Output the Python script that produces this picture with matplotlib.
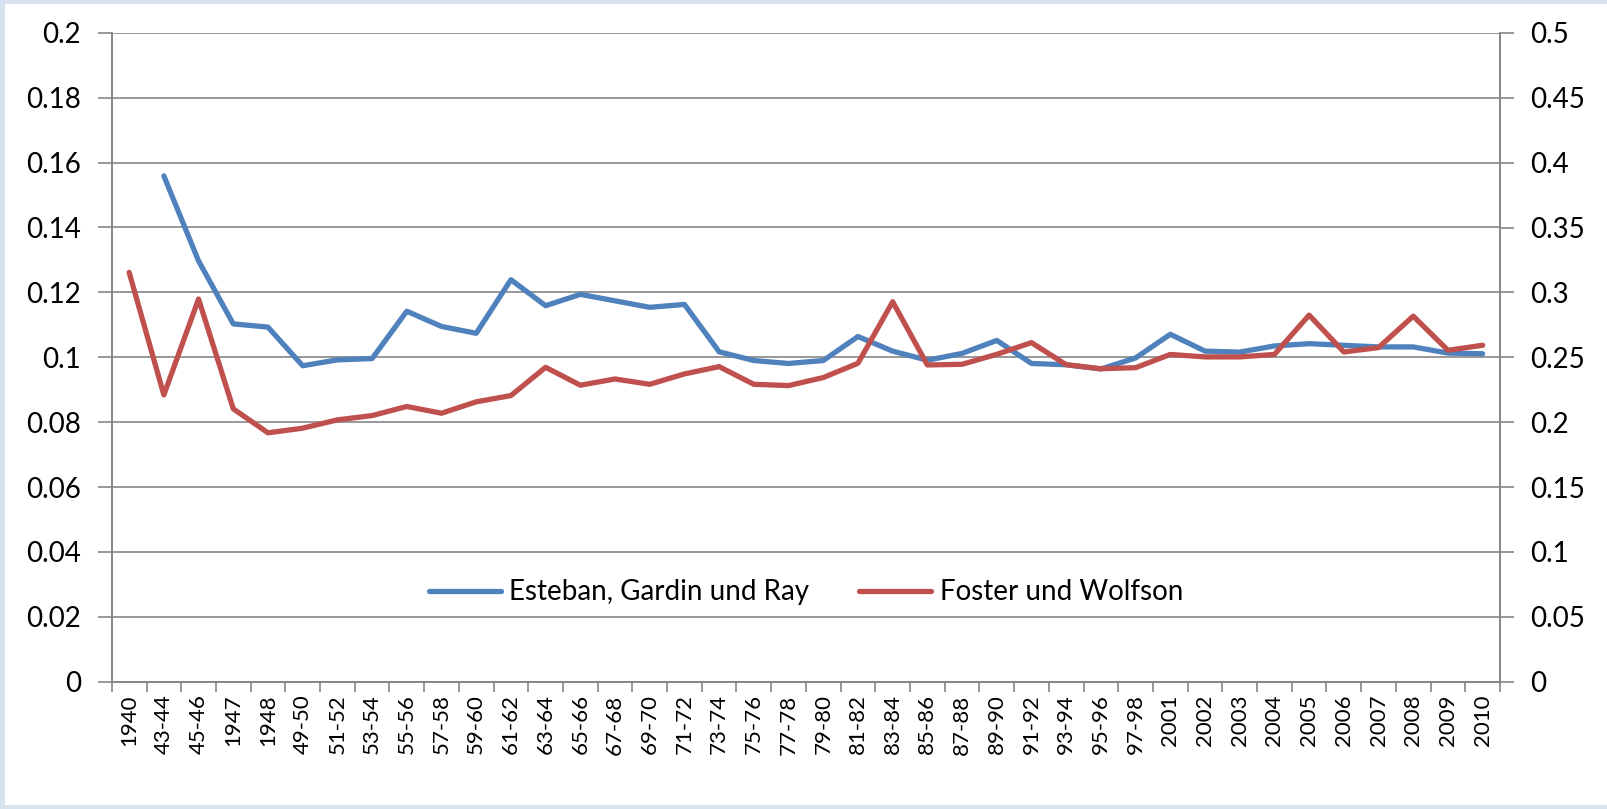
import matplotlib
matplotlib.use("Agg")
import matplotlib.pyplot as plt
from matplotlib.patches import Rectangle
from matplotlib.ticker import FixedLocator, NullFormatter

categories = ["1940", "43-44", "45-46", "1947", "1948", "49-50", "51-52", "53-54",
              "55-56", "57-58", "59-60", "61-62", "63-64", "65-66", "67-68", "69-70",
              "71-72", "73-74", "75-76", "77-78", "79-80", "81-82", "83-84", "85-86",
              "87-88", "89-90", "91-92", "93-94", "95-96", "97-98", "2001", "2002",
              "2003", "2004", "2005", "2006", "2007", "2008", "2009", "2010"]

# Esteban, Gardin und Ray (left axis); no value for 1940
egr = [None, 0.1559, 0.1297, 0.1103, 0.1093, 0.0974, 0.0992, 0.0996,
       0.1142, 0.1095, 0.1074, 0.1239, 0.1159, 0.1194, 0.1174, 0.1154,
       0.1163, 0.1017, 0.0990, 0.0981, 0.0990, 0.1064, 0.1019, 0.0991,
       0.1012, 0.1052, 0.0981, 0.0977, 0.0964, 0.0998, 0.1071, 0.1019,
       0.1016, 0.1035, 0.1042, 0.1037, 0.1032, 0.1032, 0.1013, 0.1011]

# Foster und Wolfson (right axis)
fw = [0.3154, 0.2210, 0.2949, 0.2103, 0.1918, 0.1954, 0.2018, 0.2051,
      0.2121, 0.2069, 0.2157, 0.2205, 0.2423, 0.2285, 0.2333, 0.2292,
      0.2372, 0.2428, 0.2292, 0.2282, 0.2344, 0.2454, 0.2928, 0.2441,
      0.2446, 0.2523, 0.2613, 0.2443, 0.2412, 0.2420, 0.2522, 0.2503,
      0.2503, 0.2522, 0.2825, 0.2541, 0.2575, 0.2817, 0.2554, 0.2593]

left_ticks = [0, 0.02, 0.04, 0.06, 0.08, 0.1, 0.12, 0.14, 0.16, 0.18, 0.2]
left_labels = ["0", "0.02", "0.04", "0.06", "0.08", "0.1", "0.12", "0.14", "0.16", "0.18", "0.2"]
right_ticks = [0, 0.05, 0.1, 0.15, 0.2, 0.25, 0.3, 0.35, 0.4, 0.45, 0.5]
right_labels = ["0", "0.05", "0.1", "0.15", "0.2", "0.25", "0.3", "0.35", "0.4", "0.45", "0.5"]

BLUE = "#4F81BD"
RED = "#C0504D"
GRID = "#868686"
FONT = "Lato"

fig = plt.figure(figsize=(16.07, 8.09), dpi=100)
fig.patch.set_facecolor("#D6E2EE")
fig.add_artist(Rectangle((5 / 1607, 4 / 809), 1 - 5 / 1607, 1 - 8 / 809,
                         transform=fig.transFigure, facecolor="white",
                         edgecolor="none", zorder=0))

ax = fig.add_axes([111.8 / 1607, 1 - 681.8 / 809, (1500 - 111.8) / 1607, (681.8 - 32.8) / 809])
ax.set_facecolor("none")
ax2 = ax.twinx()

x = list(range(len(categories)))
xe = [i for i, v in zip(x, egr) if v is not None]
ve = [v for v in egr if v is not None]
l1, = ax.plot(xe, ve, color=BLUE, lw=3.8, solid_joinstyle="round", solid_capstyle="round",
              label="Esteban, Gardin und Ray", zorder=3)
l2, = ax2.plot(x, fw, color=RED, lw=3.8, solid_joinstyle="round", solid_capstyle="round",
               label="Foster und Wolfson", zorder=3)

ax.set_xlim(-0.5, len(categories) - 0.5)
ax.set_ylim(0, 0.2)
ax2.set_ylim(0, 0.5)

ax.set_yticks(left_ticks)
ax.set_yticklabels(left_labels, fontsize=20, family=FONT)
ax2.set_yticks(right_ticks)
ax2.set_yticklabels(right_labels, fontsize=20, family=FONT)

ax.set_xticks(x)
ax.set_xticklabels(categories, rotation=90, fontsize=16, family=FONT)
ax.xaxis.set_minor_locator(FixedLocator([i - 0.5 for i in range(len(categories) + 1)]))
ax.xaxis.set_minor_formatter(NullFormatter())
ax.tick_params(axis="x", which="major", length=0, pad=9)
ax.tick_params(axis="x", which="minor", length=7, width=1.2, color=GRID, direction="out")
ax.tick_params(axis="y", length=10, width=1.2, color=GRID, pad=12)
ax2.tick_params(axis="y", length=10, width=1.2, color=GRID, pad=12)

ax.grid(axis="y", color=GRID, lw=1.2, zorder=1)
ax.set_axisbelow(True)

for a in (ax, ax2):
    a.spines["top"].set_visible(False)
    for s in ("left", "right", "bottom"):
        a.spines[s].set_color(GRID)
        a.spines[s].set_linewidth(1.2)

leg = ax2.legend([l1, l2], ["Esteban, Gardin und Ray", "Foster und Wolfson"],
                 loc="center", bbox_to_anchor=(0.5, 0.138), ncol=2, frameon=False,
                 prop={"family": FONT, "size": 20}, handlelength=2.6, handletextpad=0.3,
                 columnspacing=1.8)

fig.savefig("out.png", dpi=100)
